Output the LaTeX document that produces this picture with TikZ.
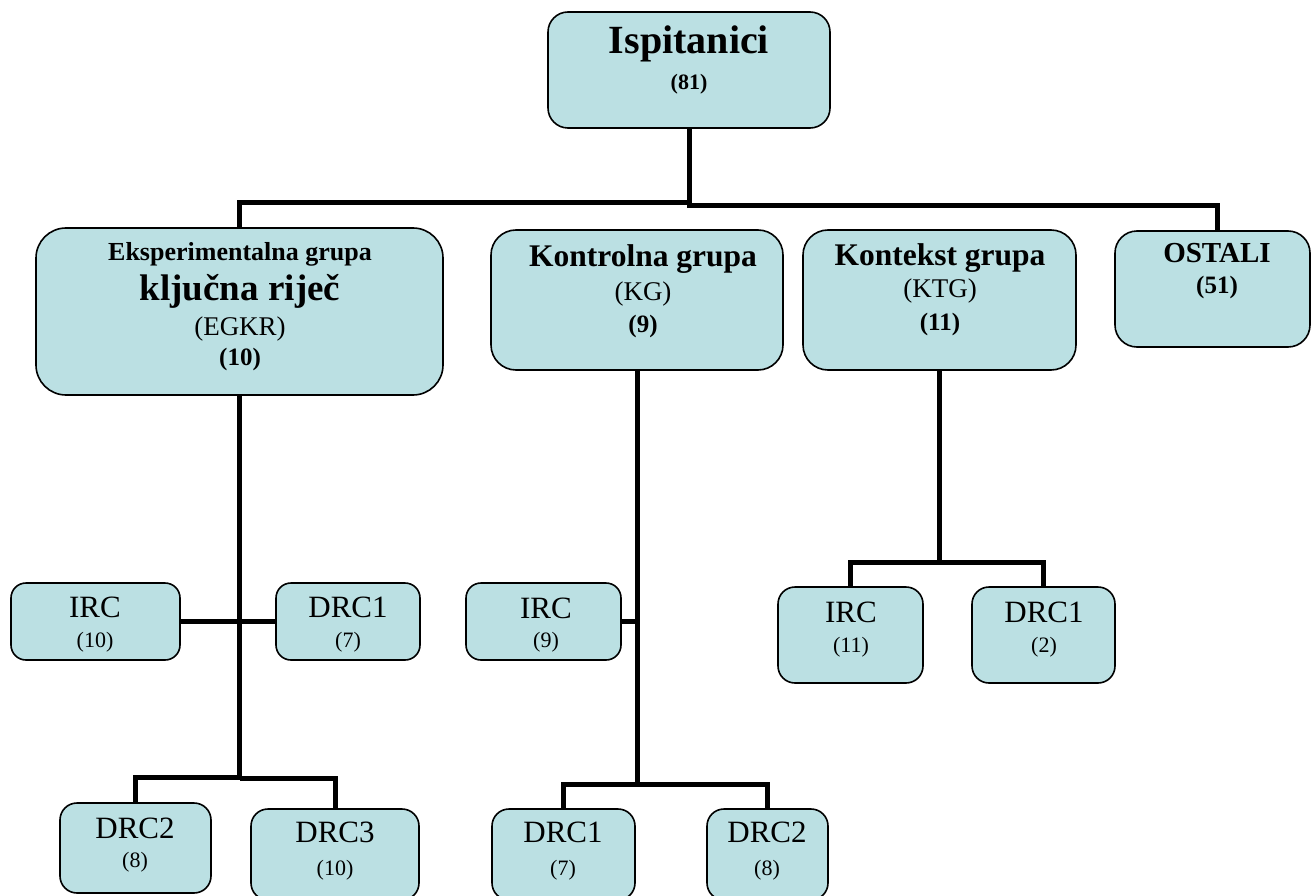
\documentclass[tikz,border=0pt]{standalone}
\usepackage{fontspec}
\setmainfont{Liberation Serif}
\usetikzlibrary{backgrounds}
\definecolor{boxfill}{HTML}{BBE0E3}
\begin{document}
\begin{tikzpicture}[x=1pt,y=-1pt,
  box/.style={draw=black, line width=1.6pt, fill=boxfill, rounded corners=#1, inner sep=0pt},
  box/.default=15pt,
  conn/.style={draw=black, line width=5pt, line join=miter},
  txt/.style={anchor=base, inner sep=0pt, font=\fontsize{#1}{#1}\selectfont},
  btxt/.style={anchor=base, inner sep=0pt, font=\fontsize{#1}{#1}\selectfont\bfseries}]
\useasboundingbox (0,0) rectangle (1311,896);

% boxes
\node[box=20pt, minimum width=282pt, minimum height=116pt] (isp)  at (689,70) {};
\node[box=30pt, minimum width=407pt, minimum height=167pt] (egkr) at (239.5,311.5) {};
\node[box=25pt, minimum width=292pt, minimum height=140pt] (kg)   at (637,300) {};
\node[box=25pt, minimum width=273pt, minimum height=140pt] (ktg)  at (939.5,300) {};
\node[box=22pt, minimum width=195pt, minimum height=116pt] (ost)  at (1212.5,289) {};

\node[box, minimum width=169pt, minimum height=77pt] (egirc)  at (95.5,621.5) {};
\node[box, minimum width=144pt, minimum height=77pt] (egdrc1) at (348,621.5) {};
\node[box, minimum width=155pt, minimum height=77pt] (kgirc)  at (543.5,621.5) {};

\node[box=17pt, minimum width=145pt, minimum height=96pt] (ktgirc)  at (850.5,635) {};
\node[box=17pt, minimum width=143pt, minimum height=96pt] (ktgdrc1) at (1043.5,635) {};

\node[box=17pt, minimum width=151pt, minimum height=90pt] (egdrc2) at (135.5,848) {};
\node[box=17pt, minimum width=168pt, minimum height=91pt] (egdrc3) at (335,854.5) {};
\node[box=17pt, minimum width=143pt, minimum height=91pt] (kgdrc1) at (563.5,854.5) {};
\node[box=17pt, minimum width=121pt, minimum height=91pt] (kgdrc2) at (767.5,854.5) {};

% texts
\node[btxt=40] (isp-a) at (689,54) {Ispitanici};
\node[btxt=22] (isp-b) at (689,90) {(81)};

\node[btxt=26] (egkr-a) at (240,260) {Eksperimentalna grupa};
\node[btxt=37] (egkr-b) at (240,300) {ključna riječ};
\node[txt=27]  (egkr-c) at (240,335) {(EGKR)};
\node[btxt=25] (egkr-d) at (240,365) {(10)};

\node[btxt=31.5] (kg-a) at (643,266) {Kontrolna grupa};
\node[txt=27]    (kg-b) at (643,300) {(KG)};
\node[btxt=25]   (kg-c) at (643,332) {(9)};

\node[btxt=31.5] (ktg-a) at (940,265) {Kontekst grupa};
\node[txt=27]    (ktg-b) at (940,297) {(KTG)};
\node[btxt=25]   (ktg-c) at (940,330) {(11)};

\node[btxt=29] (ost-a) at (1217,262) {OSTALI};
\node[btxt=25] (ost-b) at (1217,293) {(51)};

\node[txt=31] (egirc-a)  at (95,617)  {IRC};
\node[txt=22] (egirc-b)  at (95,647)  {(10)};
\node[txt=31] (egdrc1-a) at (348,617) {DRC1};
\node[txt=22] (egdrc1-b) at (348,647) {(7)};
\node[txt=31] (kgirc-a)  at (546,618) {IRC};
\node[txt=22] (kgirc-b)  at (546,647) {(9)};

\node[txt=31] (ktgirc-a)  at (851,622)  {IRC};
\node[txt=22] (ktgirc-b)  at (851,652)  {(11)};
\node[txt=31] (ktgdrc1-a) at (1044,622) {DRC1};
\node[txt=22] (ktgdrc1-b) at (1044,652) {(2)};

\node[txt=31] (egdrc2-a) at (135,838) {DRC2};
\node[txt=22] (egdrc2-b) at (135,867) {(8)};
\node[txt=31] (egdrc3-a) at (335,842) {DRC3};
\node[txt=22] (egdrc3-b) at (335,875) {(10)};
\node[txt=31] (kgdrc1-a) at (563,842) {DRC1};
\node[txt=22] (kgdrc1-b) at (563,875) {(7)};
\node[txt=31] (kgdrc2-a) at (767,842) {DRC2};
\node[txt=22] (kgdrc2-b) at (767,875) {(8)};

% connector levels
\coordinate (hyL)  at (0,202.5);
\coordinate (hyR)  at (0,205.5);
\coordinate (egyL) at (0,777);
\coordinate (egyR) at (0,778.5);
\coordinate (kgy)  at (0,784);
\coordinate (ktgy) at (0,562);
\coordinate (ostTop) at (1217,231);

\begin{scope}[on background layer]
  % root to the four groups
  \draw[conn] (egkr.north) |- (isp.south |- hyL);
  \draw[conn] (isp.south) -- (isp.south |- hyR) -| (ostTop);
  % experimental group
  \draw[conn] (egkr.south) -- (egkr.south |- egyR);
  \draw[conn] (egirc.east) -- (egdrc1.west);
  \draw[conn] (egdrc2.north) |- (egkr.south |- egyL);
  \draw[conn] (egkr.south |- egyR) -| (egdrc3.north);
  % control group
  \draw[conn] (kg.south) -- (kg.south |- kgy);
  \draw[conn] (kgirc.east) -- (kgirc.east -| kg.south);
  \draw[conn] (kgdrc1.north) |- (kgdrc2.north |- kgy) -- (kgdrc2.north);
  % context group
  \draw[conn] (ktg.south) -- (ktg.south |- ktgy);
  \draw[conn] (ktgirc.north) |- (ktgdrc1.north |- ktgy) -- (ktgdrc1.north);
\end{scope}
\end{tikzpicture}
\end{document}
